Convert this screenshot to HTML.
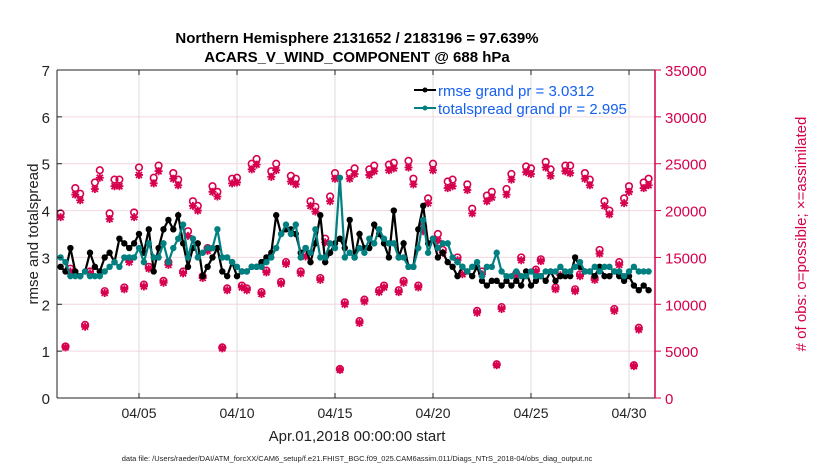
<!DOCTYPE html>
<html><head><meta charset="utf-8"><style>
body{margin:0;background:#fff;}
svg{display:block;font-family:"Liberation Sans",Arial,sans-serif;}
</style></head><body>
<svg id="chart" width="830" height="470" viewBox="0 0 830 470">
<g id="grid"></g>
<g id="obs"></g>
<g id="lines"></g>
<g id="axes"></g>
<text x="357" y="43" text-anchor="middle" font-size="15" font-weight="bold">Northern Hemisphere 2131652 / 2183196 = 97.639%</text>
<text x="357" y="62" text-anchor="middle" font-size="15" font-weight="bold">ACARS_V_WIND_COMPONENT @ 688 hPa</text>
<text transform="translate(38,234) rotate(-90)" text-anchor="middle" font-size="15" fill="#222">rmse and totalspread</text>
<text transform="translate(806,234) rotate(-90)" text-anchor="middle" font-size="15" fill="#d6004e"># of obs: o=possible; ×=assimilated</text>
<text x="357" y="441" text-anchor="middle" font-size="15" fill="#222">Apr.01,2018 00:00:00 start</text>
<text x="357" y="461" text-anchor="middle" font-size="7.5" fill="#222">data file: /Users/raeder/DAI/ATM_forcXX/CAM6_setup/f.e21.FHIST_BGC.f09_025.CAM6assim.011/Diags_NTrS_2018-04/obs_diag_output.nc</text>
<g>
<line x1="414" y1="90" x2="436" y2="90" stroke="#000" stroke-width="2"/><circle cx="425" cy="90" r="2.5" fill="#000"/>
<text x="438" y="96" font-size="15" fill="#1560f0">rmse grand pr = 3.0312</text>
<line x1="414" y1="108" x2="436" y2="108" stroke="#008080" stroke-width="2"/><circle cx="425" cy="108" r="2.5" fill="#008080"/>
<text x="438" y="114" font-size="15" fill="#1560f0">totalspread grand pr = 2.995</text>
</g>
</svg>
<script>
const dateTicks = ["04/05","04/10","04/15","04/20","04/25","04/30"];
const dateTickDays = [4,9,14,19,24,29];
const leftTicks = [0,1,2,3,4,5,6,7];
const rightTicks = [0,5000,10000,15000,20000,25000,30000,35000];
const rmse = [2.8,2.7,3.2,2.7, 2.6,2.7,3.1,2.8, 2.7,3.0,3.1,2.9, 3.4,3.3,3.2,3.3, 3.5,3.1,3.6,2.7, 3.2,3.6,3.8,3.6, 3.9,3.3,2.8,3.2, 3.3,2.6,2.8,3.0, 3.2,2.7,2.6,2.9, 2.6,2.7,2.7,2.8, 2.8,2.9,3.0,3.1, 3.9,3.5,3.6,3.6, 3.5,3.1,3.2,2.9, 3.3,3.9,2.9,3.1, 3.3,3.4,3.2,3.8, 3.0,3.5,3.2,3.2, 3.7,3.5,3.3,3.0, 4.0,3.0,3.3,2.8, 2.8,3.6,4.1,3.3, 3.4,3.0,3.1,2.9, 2.8,2.6,2.8,2.7, 2.6,2.8,2.5,2.4, 2.5,2.5,2.4,2.5, 2.4,2.5,2.4,2.7, 2.4,2.5,2.6,2.5, 2.7,2.5,2.6,2.6, 2.6,3.0,2.8,2.7, 2.7,2.6,2.8,2.6, 2.6,2.7,2.6,2.5, 2.6,2.4,2.3,2.4, 2.3];
const spread = [3.0,2.9,2.6,2.6, 2.6,2.7,2.6,2.6, 2.6,2.7,2.8,2.9, 2.8,3.0,3.0,3.0, 3.2,2.9,3.3,3.0, 3.0,3.3,2.9,3.2, 3.4,3.7,3.0,3.4, 3.0,3.1,3.2,3.2, 3.6,3.0,3.0,2.9, 2.8,2.7,2.7,2.8, 2.8,2.8,2.9,3.0, 3.2,3.5,3.7,3.5, 3.7,3.0,3.2,3.1, 3.6,3.0,3.0,3.3, 3.2,4.7,3.0,3.1, 3.0,3.2,3.1,3.4, 3.3,3.6,3.4,3.3, 3.3,3.0,3.0,2.8, 2.8,3.2,3.8,3.1, 3.4,3.2,3.3,3.3, 3.0,2.9,2.8,2.7, 2.8,2.9,2.6,2.8, 2.8,3.1,2.7,2.6, 2.6,2.7,2.6,2.6, 2.7,2.6,2.6,2.7, 2.7,2.7,2.8,2.7, 2.7,2.8,2.9,2.7, 2.7,2.8,2.7,2.8, 2.8,2.7,2.7,2.6, 2.7,2.8,2.7,2.7, 2.7];
const possible = [19700,5500,13800,22400, 21800,7800,13500,23000, 24300,11400,19700,23300, 23300,11800,14800,19800, 24600,12100,14000,23500, 24800,12500,14500,24000, 23300,13500,17800,21000, 20500,13000,16000,22600, 22000,5400,11700,23400, 23500,12000,11700,25000, 25500,11300,13600,24200, 25000,12400,14500,23700, 23400,13500,15400,21000, 20400,12800,17000,21500, 24000,3100,10200,24000, 24500,8200,10500,24400, 24800,11500,12000,24900, 25100,11500,12500,25300, 23400,12000,18300,21300, 25000,17500,15800,23100, 23300,15000,13400,22800, 20200,9300,13500,21600, 22000,3600,9700,22300, 23900,13300,15000,24700, 24500,13700,14800,25200, 24400,11800,13400,24800, 24800,11600,13200,24000, 23300,12800,15800,21000, 20000,9500,14500,21300, 22600,3500,7500,23000, 23400];
const assimilated = [19300,5400,13500,21700, 21100,7600,13300,22300, 23500,11200,19100,22600, 22600,11600,14500,19300, 23800,11900,13800,22900, 24200,12300,14200,23400, 22700,13300,17300,20500, 20000,12800,15700,22000, 21500,5300,11500,22900, 23000,11800,11500,24400, 24900,11100,13400,23600, 24300,12200,14300,23100, 22800,13300,15100,20500, 19900,12600,16600,21000, 23400,3000,10000,23400, 23900,8000,10300,23800, 24200,11300,11800,24300, 24500,11300,12300,24600, 22800,11800,17800,20800, 24300,16800,15500,22400, 22600,14700,13200,22200, 19700,9100,13200,21000, 21400,3500,9500,21700, 23300,13100,14700,24100, 23900,13500,14600,24600, 23700,11600,13100,24200, 24000,11400,13000,23400, 22700,12600,15400,20500, 19600,9300,14200,20800, 22000,3400,7300,22400, 22700];

const NS="http://www.w3.org/2000/svg";
const L=57,R=655,T=70,B=398;
const xs=d=>60.6+19.6*d;
const yl=v=>B-(v/7)*(B-T);
const yr=n=>B-(n/35000)*(B-T);
const tOf=i=>i*0.25;
function mk(tag,attrs,parent){const e=document.createElementNS(NS,tag);for(const k in attrs)e.setAttribute(k,attrs[k]);parent.appendChild(e);return e;}
const grid=document.getElementById('grid'),axes=document.getElementById('axes'),obs=document.getElementById('obs'),lines=document.getElementById('lines');
mk('rect',{x:L,y:T,width:R-L,height:B-T,fill:'#fff'},grid);
dateTickDays.forEach((d,i)=>{
  const g=mk('line',{x1:xs(d),x2:xs(d),y1:T,y2:B,stroke:'#dcdcdc','stroke-width':1},grid);
  
  
  mk('line',{x1:xs(d),x2:xs(d),y1:B,y2:B-5,stroke:'#222'},axes);
  mk('line',{x1:xs(d),x2:xs(d),y1:T,y2:T+5,stroke:'#222'},axes);
  const t=mk('text',{x:xs(d),y:B+20,'text-anchor':'middle','font-size':14,fill:'#222'},axes);
  t.textContent=dateTicks[i];
  
  
});
rightTicks.forEach(n=>{
  if(n>0&&n<35000){const g=mk('line',{x1:L,x2:R,y1:yr(n),y2:yr(n),stroke:'#f2d6e0','stroke-width':1},grid);
  
  }
  mk('line',{x1:R,x2:R+6,y1:yr(n),y2:yr(n),stroke:'#d6004e'},axes);
  const t=mk('text',{x:R+10,y:yr(n)+6,'font-size':15,fill:'#d6004e'},axes);
  t.textContent=n;
  
  
});
leftTicks.forEach(v=>{
  mk('line',{x1:L,x2:L+5,y1:yl(v),y2:yl(v),stroke:'#222'},axes);
  const t=mk('text',{x:L-7,y:yl(v)+6,'text-anchor':'end','font-size':15,fill:'#222'},axes);
  t.textContent=v;
  
  
});
mk('line',{x1:L,x2:R,y1:B,y2:B,stroke:'#222'},axes);
mk('line',{x1:L,x2:R,y1:T,y2:T,stroke:'#222'},axes);
mk('line',{x1:L,x2:L,y1:T,y2:B,stroke:'#222'},axes);
mk('line',{x1:R,x2:R,y1:T,y2:B,stroke:'#d6004e','stroke-width':1.5},axes);
const red='#d6004e';
possible.forEach((n,i)=>{
  const c=mk('circle',{cx:xs(tOf(i)),cy:yr(n),r:3.3,fill:'none',stroke:red,'stroke-width':1.6},obs);
  
  
});
assimilated.forEach((n,i)=>{
  const x=xs(tOf(i)),y=yr(n),s=4;
  const p=mk('path',{d:`M${x-s} ${y}H${x+s}M${x} ${y-s}V${y+s}M${x-3} ${y-3}L${x+3} ${y+3}M${x-3} ${y+3}L${x+3} ${y-3}`,stroke:red,'stroke-width':1.8},obs);
  
  
});
function series(arr,color,name){
  const pts=arr.map((v,i)=>xs(tOf(i))+','+yl(v)).join(' ');
  const pl=mk('polyline',{points:pts,fill:'none',stroke:color,'stroke-width':2.2},lines);
  
  
  arr.forEach((v,i)=>{
    const c=mk('circle',{cx:xs(tOf(i)),cy:yl(v),r:3.2,fill:color},lines);
    
    
  });
}
series(rmse,'#000','rmse');
series(spread,'#008080','totalspread');
</script>
</body></html>
